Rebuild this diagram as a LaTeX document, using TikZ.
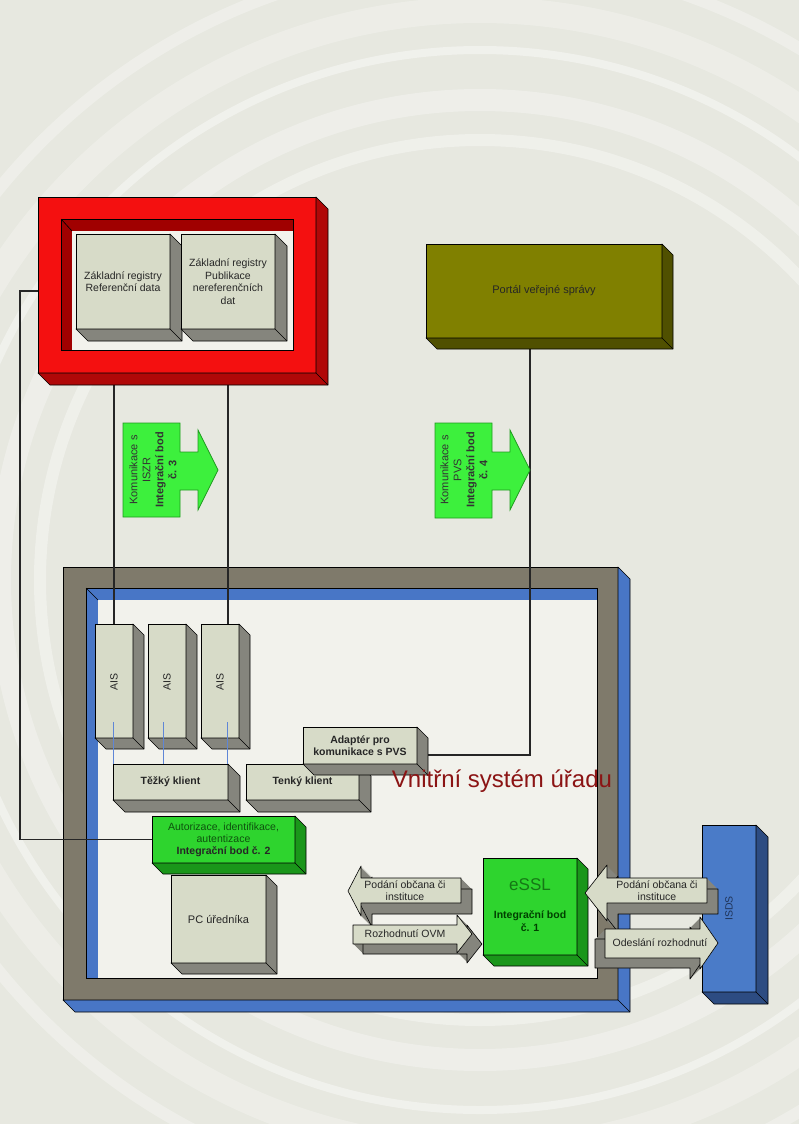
\documentclass[tikz,border=0pt]{standalone}
\usepackage{fontspec}
\setmainfont{Liberation Sans}
\usetikzlibrary{calc}
\definecolor{bg}{HTML}{E7E8E0}
\definecolor{inner}{HTML}{F2F2EC}
\definecolor{boxfront}{HTML}{D7DBC8}
\definecolor{boxside}{HTML}{85857D}
\definecolor{zrred}{HTML}{F41010}
\definecolor{zrdark}{HTML}{B00808}
\definecolor{zrin}{HTML}{A00000}
\definecolor{olive}{HTML}{808000}
\definecolor{olivedark}{HTML}{505000}
\definecolor{ofgray}{HTML}{7F7A6B}
\definecolor{ofblue}{HTML}{4876C6}
\definecolor{grn}{HTML}{3DF03D}
\definecolor{grnline}{HTML}{1F9A1F}
\definecolor{grnbox}{HTML}{2ED42E}
\definecolor{grnside}{HTML}{1A961A}
\definecolor{isds}{HTML}{4A7BC8}
\definecolor{isdsside}{HTML}{2D4C82}
\definecolor{vred}{HTML}{8B1414}
\definecolor{aisline}{HTML}{5F86D6}
\pgfdeclarelayer{back}
\pgfdeclarelayer{conn}
\pgfsetlayers{back,conn,main}
\newcommand\ext[3]{%
  \filldraw[fill=#3,draw=black,line width=.6pt,line join=round]
    (#1.north east) -- ++(#2,#2) -- ($(#1.south east)+(#2,#2)$) -- ($(#1.south west)+(#2,#2)$)
    -- (#1.south west) -- (#1.south east) -- cycle;
  \draw[line width=.6pt] (#1.south east) -- ++(#2,#2);}
\tikzset{
  bx/.style={draw=black,line width=.6pt,fill=boxfront,anchor=north west,inner sep=1pt,outer sep=0pt,
    align=center,text=black!85,font=\fontsize{10.5}{12.5}\selectfont},
  conn/.style={draw=black!85,line width=1.1pt},
  aisl/.style={draw=aisline,line width=1pt},
  garrow/.style={fill=grn,draw=grnline,line width=.7pt},
  gtext/.style={rotate=90,align=center,font=\fontsize{11}{13}\selectfont,text=black!80},
  blk/.style={fill=boxfront,draw=black,line width=.6pt,line join=round},
  blkside/.style={fill=boxside,draw=black,line width=.6pt,line join=round},
  blktext/.style={align=center,font=\fontsize{10.5}{12}\selectfont,text=black!85},
}
\begin{document}
\begin{tikzpicture}[x=1pt,y=-1pt]
\useasboundingbox (0,0) rectangle (799,1124);
\begin{pgfonlayer}{back}
\fill[bg] (0,0) rectangle (799,1124);
\begin{scope}
\clip (0,0) rectangle (799,1124);
\foreach \r/\w/\o in {440/12/0.35,480/22/0.3,530/8/0.4,570/26/0.25,620/12/0.3}
  \draw[white,opacity=\o,line width=\w pt] (480,580) circle (\r pt);
\end{scope}
% office frame
\node[draw=black,line width=.6pt,fill=ofgray,anchor=north west,outer sep=0pt,inner sep=0pt,
  minimum width=555pt,minimum height=433pt] (of) at (63,567) {};
\ext{of}{12}{ofblue}
\fill[ofblue] (86,588) rectangle (597,978);
\fill[inner] (98,600) rectangle (597,978);
\draw[line width=.6pt] (86,588) rectangle (597,978);
\draw[line width=.6pt] (86,588) -- (98,600);
\end{pgfonlayer}

% ZR red frame
\node[draw=black,line width=.6pt,fill=zrred,anchor=north west,outer sep=0pt,inner sep=0pt,
  minimum width=278pt,minimum height=176pt] (zr) at (38,197) {};
\ext{zr}{12}{zrdark}
\fill[zrin] (61,219) rectangle (293,350);
\fill[inner] (72,231) rectangle (293,350);
\draw[line width=.6pt] (61,219) rectangle (293,350);
\draw[line width=.6pt] (61,219) -- (72,231);

\node[bx,minimum width=94pt,minimum height=95pt] (zr1) at (76,234) {Základní registry\\Referenční data};
\ext{zr1}{12}{boxside}
\node[bx,minimum width=94pt,minimum height=95pt] (zr2) at (181,234) {Základní registry\\Publikace\\nereferenčních\\dat};
\ext{zr2}{12}{boxside}

% Portal
\node[bx,fill=olive,minimum width=236pt,minimum height=94pt,font=\fontsize{11}{13}\selectfont] (portal) at (426,244) {Portál veřejné správy};
\ext{portal}{11}{olivedark}

% green arrows
\draw[garrow] (123,423) -- (180,423) -- (180,452) -- (198,452) -- (198,430) -- (218,470) -- (198,510)
  -- (198,490) -- (180,490) -- (180,517) -- (123,517) -- cycle;
\node[gtext] (a3) at (153,470)
  {Komunikace s\\ISZR\\\textbf{Integrační bod}\\\textbf{č. 3}};
\draw[garrow] (435,423) -- (492,423) -- (492,452) -- (510,452) -- (510,430) -- (530,470) -- (510,510)
  -- (510,490) -- (492,490) -- (492,518) -- (435,518) -- cycle;
\node[gtext] (a4) at (464,470)
  {Komunikace s\\PVS\\\textbf{Integrační bod}\\\textbf{č. 4}};

% AIS
\foreach \n/\x in {ais1/95,ais2/148,ais3/201}{
  \node[bx,minimum width=38pt,minimum height=114pt] (\n) at (\x,624) {};
  \ext{\n}{11}{boxside}
  \node[rotate=90,font=\fontsize{10.5}{12}\selectfont,text=black!85] at ($(\n.north)+(0,58)$) {AIS};
}

% clients
\node[bx,font=\bfseries\fontsize{10.5}{12.5}\selectfont,minimum width=115pt,minimum height=36pt] (tezky) at (113,764) {Těžký klient};
\ext{tezky}{12}{boxside}
\node[bx,font=\bfseries\fontsize{10.5}{12.5}\selectfont,minimum width=113pt,minimum height=36pt] (tenky) at (246,764) {Tenký klient};
\ext{tenky}{12}{boxside}
\node[bx,font=\bfseries\fontsize{10.5}{12.5}\selectfont,minimum width=114pt,minimum height=37pt] (adapter) at (303,727) {Adaptér pro\\komunikace s PVS};
\ext{adapter}{11}{boxside}

% PC and auth
\node[bx,minimum width=95pt,minimum height=88pt,font=\fontsize{11}{13}\selectfont] (pc) at (171,875) {PC úředníka};
\ext{pc}{11}{boxside}
\node[bx,fill=grnbox,minimum width=143pt,minimum height=47pt,font=\fontsize{10.5}{12}\selectfont] (auth) at (152,816)
  {\textcolor{black!45!grnside}{Autorizace, identifikace,}\\\textcolor{black!45!grnside}{autentizace}\\\textbf{Integrační bod č. 2}};
\ext{auth}{11}{grnside}

% eSSL
\node[bx,fill=grnbox,minimum width=94pt,minimum height=97pt] (essl) at (483,858) {};
\ext{essl}{11}{grnside}
\node[text=grnside!80!black,font=\fontsize{17}{19}\selectfont] at ($(essl.north)+(0,27)$) {eSSL};
\node[align=center,text=black!75!green,font=\bfseries\fontsize{10.5}{12.5}\selectfont] at ($(essl.north)+(0,63)$) {Integrační bod\\č. 1};

% ISDS
\node[bx,fill=isds,minimum width=54pt,minimum height=167pt] (isds) at (702,825) {};
\ext{isds}{12}{isdsside}
\node[rotate=90,text=isdsside!70!black,font=\fontsize{10.5}{12}\selectfont] at (isds.center) {ISDS};

% block arrows
\foreach \s in {1,...,11}
  \fill[boxside] ([shift={(\s,\s)}]0,0) ++(348,891) -- ++(13,-25) -- ++(0,12) -- ++(100,0) -- ++(0,25) -- ++(-100,0) -- ++(0,13) -- cycle;
\draw[blkside,fill=none] (359,902) -- ++(13,-25) -- ++(0,12) -- ++(100,0) -- ++(0,25) -- ++(-100,0) -- ++(0,13) -- cycle;
\draw[blk] (348,891) -- (361,866) -- (361,878) -- (461,878) -- (461,903) -- (361,903) -- (361,916) -- cycle;
\node[blktext] (pod1) at (405,891) {Podání občana či\\instituce};

\foreach \s in {1,...,10}
  \fill[boxside] ([shift={(\s,\s)}]0,0) ++(353,925) -- ++(104,0) -- ++(0,-10) -- ++(15,19) -- ++(-15,19) -- ++(0,-9) -- ++(-104,0) -- cycle;
\draw[blkside,fill=none] (363,935) -- ++(104,0) -- ++(0,-10) -- ++(15,19) -- ++(-15,19) -- ++(0,-9) -- ++(-104,0) -- cycle;
\draw[blk] (353,925) -- (457,925) -- (457,915) -- (472,934) -- (457,953) -- (457,944) -- (353,944) -- cycle;
\node[blktext] (rozh) at (405,934) {Rozhodnutí OVM};

\foreach \s in {1,...,11}
  \fill[boxside] ([shift={(\s,\s)}]0,0) ++(585,893) -- ++(22,-28) -- ++(0,13) -- ++(100,0) -- ++(0,25) -- ++(-100,0) -- ++(0,18) -- cycle;
\draw[blkside,fill=none] (596,904) -- ++(22,-28) -- ++(0,13) -- ++(100,0) -- ++(0,25) -- ++(-100,0) -- ++(0,18) -- cycle;
\draw[blk] (585,893) -- (607,865) -- (607,878) -- (707,878) -- (707,903) -- (607,903) -- (607,921) -- cycle;
\node[blktext] (pod2) at (657,891) {Podání občana či\\instituce};

\foreach \s in {1,...,10}
  \fill[boxside] ([shift={(-\s,\s)}]0,0) ++(605,929) -- ++(95,0) -- ++(0,-12) -- ++(18,26) -- ++(-18,26) -- ++(0,-11) -- ++(-95,0) -- cycle;
\draw[blkside,fill=none] (595,939) -- ++(95,0) -- ++(0,-12) -- ++(18,26) -- ++(-18,26) -- ++(0,-11) -- ++(-95,0) -- cycle;
\draw[blk] (605,929) -- (700,929) -- (700,917) -- (718,943) -- (700,969) -- (700,958) -- (605,958) -- cycle;
\node[blktext] (odes) at (660,943) {Odeslání rozhodnutí};

% title
\node[text=vred,font=\fontsize{24}{28}\selectfont] (title) at (502,781) {Vnitřní systém úřadu};

% connectors
\begin{pgfonlayer}{conn}
\draw[conn] (zr.south -| ais1.north) -- (ais1.north);
\coordinate (c3) at ($(ais3.north)+(8,0)$);
\draw[conn] (zr.south -| c3) -- (c3);
\coordinate (pcor) at (530,755);
\draw[conn] (portal.south -| pcor) -- (pcor) -- (pcor -| adapter.east);
\coordinate (lc) at (20,291);
\draw[conn] (zr.west |- lc) -- (lc) -- (lc |- auth.west) -- (auth.west);
\end{pgfonlayer}
\draw[aisl] ([yshift=16pt,xshift=-1pt]ais1.south) -- (tezky.north -| 113,0);
\draw[aisl] ([yshift=16pt,xshift=-4pt]ais2.south) -- (tezky.north -| 163,0);
\draw[aisl] ([yshift=16pt,xshift=7pt]ais3.south) -- (tezky.north -| 227,0);
\end{tikzpicture}
\end{document}
